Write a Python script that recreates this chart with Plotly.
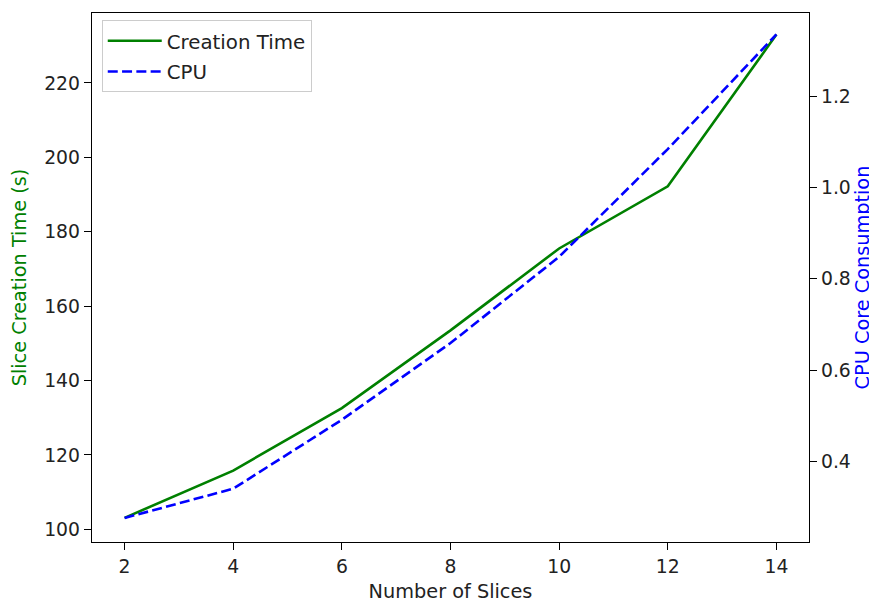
import plotly.graph_objects as go

slices = [2, 4, 6, 8, 10, 12, 14]
creation_time = [103.1, 115.8, 132.6, 153.5, 175.5, 192.2, 233.0]
cpu_cores = [0.276, 0.340, 0.491, 0.659, 0.848, 1.084, 1.335]

x_ticks = [2, 4, 6, 8, 10, 12, 14]
left_ticks = [100, 120, 140, 160, 180, 200, 220]
right_ticks = [0.4, 0.6, 0.8, 1.0, 1.2]

FONT = "DejaVu Sans"
FS = 19.3
TFS = 18.8

fig = go.Figure()
fig.add_trace(go.Scatter(x=slices, y=creation_time, mode="lines", name="Creation Time",
                         legendgroup="a",
                         line=dict(color="green", width=2.6), yaxis="y"))
fig.add_trace(go.Scatter(x=slices, y=cpu_cores, mode="lines", name="CPU",
                         legendgroup="b",
                         line=dict(color="blue", width=2.6, dash="10px,4.3px"), yaxis="y2"))

axis_common = dict(showgrid=False, zeroline=False, showline=True, linecolor="black", linewidth=1.4,
                   ticks="outside", ticklen=7, tickwidth=1.3, tickcolor="black",
                   tickfont=dict(family=FONT, size=TFS, color="#222222"))

fig.update_layout(
    width=869, height=595,
    margin=dict(l=84, r=68, t=4, b=60),
    paper_bgcolor="white", plot_bgcolor="white",
    font=dict(family=FONT, size=FS, color="black"),
    xaxis=dict(range=[1.4, 14.6], tickvals=x_ticks, mirror=True,
               title=dict(text="Number of Slices", font=dict(family=FONT, size=FS, color="#222222"), standoff=9),
               **axis_common),
    yaxis=dict(range=[96.6, 238.8], tickvals=left_ticks,
               title=dict(text="Slice Creation Time (s)", font=dict(family=FONT, size=FS, color="green"), standoff=13),
               **axis_common),
    yaxis2=dict(range=[0.2233, 1.382], tickvals=right_ticks, tickformat=".1f", overlaying="y", side="right",
                title=dict(text="CPU Core Consumption", font=dict(family=FONT, size=FS, color="blue"), standoff=3),
                **axis_common),
    legend=dict(x=0.0136, y=0.986, xanchor="left", yanchor="top", bgcolor="rgba(255,255,255,0.8)",
                bordercolor="#cccccc", borderwidth=1, font=dict(family=FONT, size=19.8, color="#222222"),
                itemwidth=54, tracegroupgap=2),
    showlegend=True,
)

fig.write_html("out.html")
